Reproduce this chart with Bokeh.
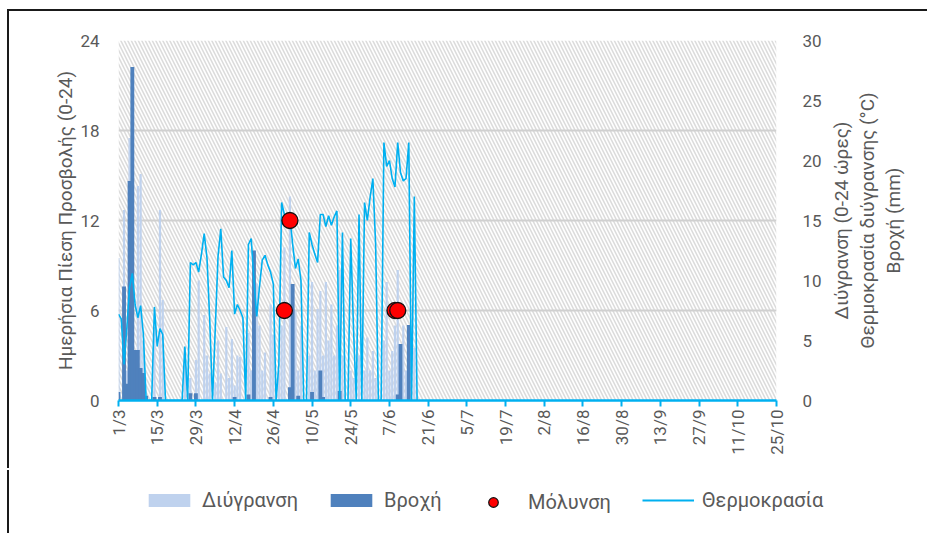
import math
from bokeh.plotting import figure
from bokeh.layouts import column, row
from bokeh.models import (Range1d, LinearAxis, FixedTicker, BoxAnnotation, Spacer, Label,
                          Legend, LegendItem, ColumnDataSource)
from bokeh.core.properties import value
from bokeh.embed import file_html
from bokeh.resources import INLINE

# ---------------- data (day 0 = 1/3) ----------------
tick_days = [0, 14, 28, 42, 56, 70, 84, 98, 112, 126, 140, 154, 168, 182, 196, 210, 224, 238]
tick_labels = ["1/3", "15/3", "29/3", "12/4", "26/4", "10/5", "24/5", "7/6", "21/6",
               "5/7", "19/7", "2/8", "16/8", "30/8", "13/9", "27/9", "11/10", "25/10"]

# Διύγρανση (hours of wetness per day)
wetness = [
    9.5, 0, 12.7, 2.0, 17.5, 14.0, 3.0, 14.3, 15.1, 4.0,
    0, 0, 0, 4.9, 0, 12.7, 6.7, 0, 0, 0,
    0, 0, 0, 0, 3.5, 0, 1.5, 0, 2.7, 8.0,
    0, 5.7, 3.0, 1.8, 0, 1.2, 4.0, 1.8, 0, 4.9,
    1.5, 4.1, 1.0, 3.0, 2.9, 0, 0, 4.5, 2.0, 3.0,
    7.8, 5.0, 2.0, 3.2, 0, 6.4, 4.4, 0, 2.0, 5.0,
    10.2, 0, 13.6, 4.0, 6.0, 2.0, 5.0, 0, 0, 3.0,
    7.9, 2.0, 6.1, 7.3, 3.0, 7.9, 4.0, 6.4, 3.0, 5.0,
    8.7, 3.0, 0, 0, 2.0, 1.5, 0, 3.0, 0, 2.0,
    4.2, 2.0, 3.3, 1.5, 0, 0, 4.0, 7.9, 2.0, 3.3,
    5.0, 8.7, 3.0, 5.0, 2.0, 4.0, 0, 3.5, 0,
]

# Βροχή (mm per day)
rain = [
    0.7, 0, 9.5, 1.4, 18.3, 27.8, 4.2, 4.2, 2.7, 2.3,
    0.4, 0, 0, 0.3, 0, 0.3, 0, 0, 0, 0,
    0, 0, 0, 0, 0, 0, 0.6, 0, 0.6, 0,
    0, 0, 0, 0, 0, 0, 0, 0, 0, 0,
    0, 0, 0.3, 0, 0, 0, 0, 0.5, 0, 12.5,
    0, 0, 0, 0, 0, 0.3, 0, 0, 0, 0,
    0, 0, 1.1, 9.7, 0, 0.4, 0, 0, 0, 0,
    0.7, 0, 0, 2.5, 0.3, 0, 0, 0, 0, 0,
    0.8, 0, 0, 0, 0, 0, 0, 0, 0, 0,
    0, 0, 0, 0, 0, 0, 0, 0, 0, 0,
    0, 0.5, 4.7, 0, 0, 6.3, 0, 0, 0,
]

# Θερμοκρασία διύγρανσης (°C)
temperature = [
    7.2, 6.8, 3.0, 6.0, 9.4, 10.6, 8.0, 6.9, 7.9, 5.5,
    0, 0, 0, 7.8, 4.5, 6.0, 5.5, 0, 0, 0,
    0, 0, 0, 0, 4.5, 0, 11.5, 11.3, 11.5, 10.7,
    12.2, 13.9, 11.9, 6.7, 0, 6.0, 12.0, 14.3, 10.3, 10.0,
    9.4, 12.5, 7.2, 8.0, 7.5, 6.9, 0, 13.0, 13.5, 10.0,
    7.0, 9.5, 11.7, 12.1, 11.3, 10.7, 9.7, 0, 3.0, 16.5,
    15.5, 14.7, 15.3, 13.0, 11.0, 11.8, 10.0, 0, 0, 14.0,
    13.0, 12.2, 11.5, 15.5, 15.5, 14.5, 15.4, 14.6, 15.3, 15.8,
    0, 14.0, 0, 0, 13.5, 6.0, 0, 15.5, 0, 16.5,
    15.0, 16.9, 18.5, 13.0, 0, 0, 21.5, 19.5, 20.0, 18.5,
    17.8, 21.5, 19.0, 18.3, 18.5, 21.5, 0, 17.0, 0,
]

# Μόλυνση (infection events: day, daily pressure)
infection_days = [60, 62, 100, 101]
infection_vals = [6, 12, 6, 6]

left_ticks = [0, 6, 12, 18, 24]
right_ticks = [0, 5, 10, 15, 20, 25, 30]
right_titles = ["Διύγρανση (0-24 ώρες)", "Θερμοκρασία διύγρανσης (°C)", "Βροχή (mm)"]
legend_labels = ["Διύγρανση", "Βροχή", "Μόλυνση", "Θερμοκρασία"]

days = list(range(len(temperature)))
src = ColumnDataSource(dict(day=days, wet=wetness, rain=rain, temp=temperature))
inf_src = ColumnDataSource(dict(day=infection_days, val=infection_vals))

FONT = "Roboto"
TXT = "#595959"
C_WET, C_RAIN, C_TEMP, C_INF = "#BFD2EE", "#4F81BD", "#00B0F0", "#FF0000"
BORDER = "2px solid #1a1a1a"
TOP, BOTTOM = 29, 70

p = figure(width=821, height=459, x_range=Range1d(tick_days[0], tick_days[-1]),
           y_range=Range1d(left_ticks[0], left_ticks[-1]),
           output_backend="svg", toolbar_location=None,
           min_border_left=109, min_border_right=54, min_border_top=TOP, min_border_bottom=BOTTOM,
           background_fill_color="white", border_fill_color="white", outline_line_color=None)
p.styles = {"border-left": BORDER, "border-top": BORDER}
p.extra_y_ranges = {"right": Range1d(right_ticks[0], right_ticks[-1])}

# hatched plot area
p.add_layout(BoxAnnotation(fill_color="white", fill_alpha=1.0, line_color=None,
                           hatch_pattern="\\", hatch_color="#DCDCDC", hatch_scale=7,
                           hatch_weight=1.6, level="image"))

# grid
p.xgrid.visible = False
p.ygrid.ticker = FixedTicker(ticks=left_ticks)
p.ygrid.grid_line_color = "#D0D0D0"
p.ygrid.grid_line_width = 2

# left axis
yl = p.yaxis[0]
yl.ticker = FixedTicker(ticks=left_ticks)
yl.axis_line_color = None
yl.major_tick_line_color = None
yl.minor_tick_line_color = None
yl.major_label_standoff = 13
yl.major_label_text_font = FONT
yl.major_label_text_font_size = "17px"
yl.major_label_text_color = TXT
yl.axis_label = "Ημερήσια Πίεση Προσβολής (0-24)"
yl.axis_label_text_font = FONT
yl.axis_label_text_font_size = "19px"
yl.axis_label_text_font_style = "normal"
yl.axis_label_text_color = TXT
yl.axis_label_standoff = 0

# right axis with ticks
yr = LinearAxis(y_range_name="right", ticker=FixedTicker(ticks=right_ticks))
yr.axis_line_color = None
yr.major_tick_line_color = None
yr.minor_tick_line_color = None
yr.major_label_standoff = 20
yr.major_label_text_font = FONT
yr.major_label_text_font_size = "17px"
yr.major_label_text_color = TXT
p.add_layout(yr, "right")

# x axis
xa = p.xaxis[0]
xa.ticker = FixedTicker(ticks=tick_days)
xa.major_label_overrides = {d: l for d, l in zip(tick_days, tick_labels)}
xa.major_label_orientation = math.pi / 2
xa.axis_line_color = C_TEMP
xa.axis_line_width = 2.5
xa.major_tick_line_color = C_TEMP
xa.major_tick_line_width = 2
xa.major_tick_in = 0
xa.major_tick_out = 6
xa.minor_tick_line_color = None
xa.major_label_standoff = 3
xa.major_label_text_font = FONT
xa.major_label_text_font_size = "17px"
xa.major_label_text_color = TXT

# series
p.vbar(x="day", top="wet", width=0.8, source=src, fill_color=C_WET, line_color=None)
p.vbar(x="day", top="rain", width=1.4, source=src, fill_color=C_RAIN, line_color=None,
       y_range_name="right")
p.line(x="day", y="temp", source=src, line_color=C_TEMP, line_width=1.6, y_range_name="right")
p.scatter(x="day", y="val", source=inf_src, size=16, fill_color=C_INF,
          line_color="#111111", line_width=1.3)

# ---------------- right axis title strip ----------------
pr = figure(width=99, height=459, x_range=Range1d(0, 1), y_range=Range1d(0, 1),
            output_backend="svg", toolbar_location=None, x_axis_type=None, y_axis_type=None,
            min_border_left=0, min_border_right=0, min_border_top=TOP, min_border_bottom=BOTTOM,
            outline_line_color=None, background_fill_color="white", border_fill_color="white")
pr.styles = {"border-top": BORDER}
pr.xgrid.visible = False
pr.ygrid.visible = False
for t, xs in zip(right_titles, [13, 38.5, 65]):
    pr.add_layout(Label(x=xs, y=180, x_units="screen", y_units="screen", text=t,
                        angle=math.pi / 2, text_align="center", text_baseline="middle",
                        text_font=FONT, text_font_size="19px", text_color=TXT))

# ---------------- legend strip (separate root below the chart) ----------------
pl = figure(width=920, height=63, x_range=Range1d(0, 1), y_range=Range1d(0, 1),
            output_backend="svg", toolbar_location=None, x_axis_type=None, y_axis_type=None,
            min_border=0, min_border_left=0, min_border_right=0, min_border_top=0,
            min_border_bottom=0, outline_line_color=None, background_fill_color="white",
            border_fill_color="white")
pl.styles = {"border-left": BORDER}
pl.xgrid.visible = False
pl.ygrid.visible = False
nan = float("nan")
g_wet = pl.vbar(x=[nan], top=[nan], width=1, fill_color=C_WET, line_color=None)
g_rain = pl.vbar(x=[nan], top=[nan], width=1, fill_color=C_RAIN, line_color=None)
g_inf = pl.scatter(x=[nan], y=[nan], size=10, fill_color=C_INF, line_color="#111111", line_width=1.2)
g_temp = pl.line(x=[nan, nan], y=[nan, nan], line_color=C_TEMP, line_width=2)

specs = [(legend_labels[0], g_wet, 134, 21, 16, 7),
         (legend_labels[1], g_rain, 316, 21, 16, 7),
         (legend_labels[2], g_inf, 458, 19, 24, 9),
         (legend_labels[3], g_temp, 633, 21, 16, 8)]
for lab, rend, vx, vy, gh, so in specs:
    lg = Legend(items=[LegendItem(label=value(lab), renderers=[rend])],
                location=(vx, vy), orientation="horizontal", glyph_width=52, glyph_height=gh,
                label_standoff=so, padding=0, margin=0, spacing=0,
                border_line_color=None, background_fill_alpha=0,
                label_text_font=FONT, label_text_font_size="20px", label_text_color=TXT,
                label_height=20)
    pl.add_layout(lg)

chart_root = row(Spacer(width=7, height=470),
                 column(Spacer(width=922, height=9), row(p, pr, spacing=0), spacing=0),
                 spacing=0)
legend_root = row(Spacer(width=7, height=63), pl, spacing=0)

open("out.html", "w").write(file_html([chart_root, legend_root], INLINE))
